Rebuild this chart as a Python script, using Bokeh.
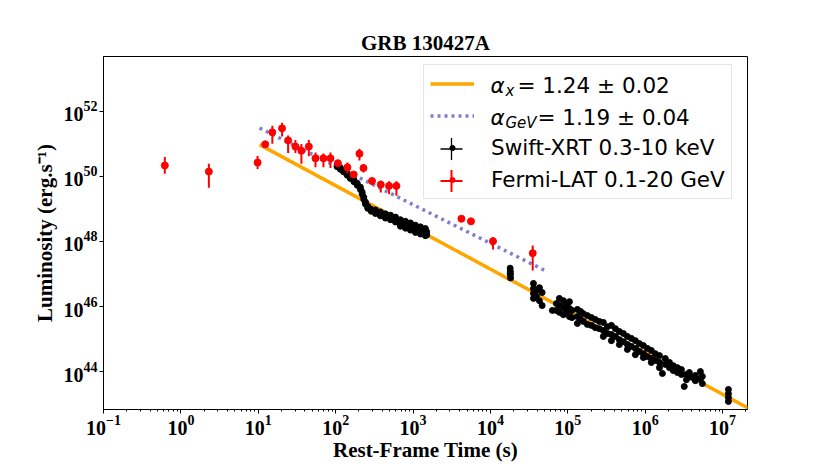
import numpy as np
from bokeh.plotting import figure
from bokeh.models import (Range1d, FixedTicker, LogTickFormatter, Legend, LegendItem,
                          Label, Arrow)
from bokeh.embed import file_html
from bokeh.resources import INLINE

# ---------------- data ----------------
# Fermi-LAT 0.1-20 GeV: rest-frame time (s), log10 luminosity, upper / lower error (dex)
lat_t = [0.62, 2.3, 9.8, 12.3, 15.2, 20.3, 24.3, 30.2, 36.1, 45, 54.9, 69.5, 85.7,
         107, 142, 171, 203, 229, 295, 383, 490, 610, 4220, 5610, 10800, 35200]
lat_logL = [50.34, 50.15, 50.43, 50.99, 51.36, 51.48, 51.11, 50.92, 50.79, 50.92, 50.56,
            50.56, 50.56, 50.41, 50.28, 50.06, 50.70, 50.26, 49.86, 49.75, 49.71, 49.71,
            48.70, 48.62, 48.01, 47.64]
lat_err_up = [0.26, 0.24, 0.20, 0.10, 0.20, 0.17, 0.15, 0.20, 0.21, 0.20, 0.18, 0.15, 0.18,
              0.08, 0.15, 0.07, 0.15, 0.12, 0.10, 0.12, 0.14, 0.14, 0.07, 0.07, 0.13, 0.24]
lat_err_dn = [0.26, 0.50, 0.20, 0.10, 0.35, 0.25, 0.39, 0.20, 0.40, 0.30, 0.28, 0.28, 0.30,
              0.08, 0.18, 0.07, 0.21, 0.14, 0.12, 0.24, 0.26, 0.30, 0.07, 0.10, 0.26, 0.53]

# Swift-XRT 0.3-10 keV: rest-frame time (s), log10 luminosity
xrt_t = [104.5, 104.5, 115, 115, 127, 127, 141, 141, 155, 155, 172, 172, 190, 190,
         209, 209, 220, 220, 231, 231, 243, 243, 260, 260, 288, 288,
         327, 327, 327, 379, 379, 379, 440, 440, 440, 511, 511, 511, 593, 593, 593,
         687, 687, 687, 687, 798, 798, 798, 798, 925, 925, 925, 925,
         1074, 1074, 1074, 1074, 1247, 1247, 1247, 1247, 1445, 1445, 1445, 1445, 1500, 1500,
         18000, 18100, 18100, 18200, 18000,
         36000, 36000, 36000, 36000, 39300, 39300, 43000, 43000, 46600, 46600,
         63200, 71300, 71300, 77900, 77900, 77900, 87700, 87700, 87700, 95900, 95900,
         105000, 105000, 105000, 113000, 113000,
         133000, 133000, 133000, 146000, 146000, 159000, 159000, 179000, 179000,
         202000, 202000, 227000, 227000, 256000, 256000,
         288000, 288000, 288000, 325000, 325000, 366000, 366000, 366000, 412000, 412000,
         464000, 464000, 464000, 523000, 523000, 589000, 589000, 589000,
         663000, 663000, 747000, 747000, 747000, 841000, 841000, 948000, 948000, 948000,
         1.07e6, 1.07e6, 1.20e6, 1.20e6, 1.20e6, 1.35e6, 1.35e6, 1.53e6, 1.53e6, 1.53e6,
         1.67e6, 1.82e6, 1.82e6,
         2.06e6, 2.06e6, 2.31e6, 2.31e6, 2.61e6, 2.61e6, 2.94e6, 2.94e6, 3.2e6,
         3.41e6, 3.41e6, 3.72e6, 3.72e6, 4.07e6, 4.45e6, 4.45e6, 5.17e6, 5.17e6,
         5.48e6, 5.48e6,
         1.19e7, 1.19e7, 1.19e7, 1.19e7]
xrt_logL = [50.34, 50.30, 50.27, 50.22, 50.18, 50.14, 50.10, 50.04, 49.98, 49.94, 49.90, 49.84,
            49.79, 49.73, 49.67, 49.60, 49.52, 49.46, 49.36, 49.30, 49.21, 49.15, 49.08, 49.02,
            48.99, 48.93,
            48.92, 48.86, 48.97, 48.85, 48.79, 48.91, 48.79, 48.72, 48.85, 48.75, 48.67, 48.81,
            48.68, 48.60, 48.75,
            48.59, 48.52, 48.67, 48.47, 48.54, 48.46, 48.62, 48.41, 48.49, 48.40, 48.57, 48.35,
            48.42, 48.34, 48.50, 48.28, 48.37, 48.29, 48.45, 48.23, 48.32, 48.24, 48.40, 48.18,
            48.30, 48.20,
            47.18, 47.08, 46.98, 46.88, 47.02,
            46.71, 46.55, 46.40, 46.25, 46.49, 46.31, 46.58, 46.18, 46.43, 46.03,
            45.88, 46.09, 45.88, 46.25, 46.03, 45.82, 46.18, 45.97, 45.75, 46.06, 45.85,
            46.15, 45.94, 45.69, 45.88, 45.66,
            45.91, 45.69, 45.48, 45.85, 45.60, 45.78, 45.54, 45.72, 45.45,
            45.66, 45.42, 45.60, 45.35, 45.54, 45.32,
            45.51, 45.26, 45.08, 45.38, 45.17, 45.42, 45.14, 44.95, 45.32, 45.08,
            45.23, 44.98, 44.83, 45.17, 44.92, 45.08, 44.83, 44.68,
            45.02, 44.77, 44.95, 44.71, 44.52, 44.86, 44.62, 44.80, 44.55, 44.43,
            44.71, 44.46, 44.65, 44.40, 44.28, 44.55, 44.34, 44.49, 44.28, 44.12,
            43.94, 44.40, 44.22,
            44.28, 44.12, 44.18, 44.03, 44.12, 43.97, 44.06, 43.91, 43.54,
            43.91, 43.75, 43.97, 43.85, 43.82, 43.88, 43.72, 44.00, 43.78,
            43.85, 43.63,
            43.45, 43.32, 43.20, 43.08]

# power-law fits (end points)
fit_x_t = [10.4, 2.5e7]
fit_x_logL = [50.98, 42.79]
fit_gev_t = [10.4, 52500]
fit_gev_logL = [51.49, 47.09]

# tick labels / positions (decades)
x_tick_exp = [-1, 0, 1, 2, 3, 4, 5, 6, 7]
y_tick_exp = [44, 46, 48, 50, 52]

# ---------------- figure ----------------
p = figure(width=830, height=467, x_axis_type="log", y_axis_type="log",
           x_range=Range1d(0.1, 2.1e7), y_range=Range1d(6.8e42, 4.9e53),
           output_backend="svg", toolbar_location=None,
           min_border_left=103, min_border_right=83, min_border_top=56, min_border_bottom=58,
           background_fill_color="white", border_fill_color="white")

p.xgrid.visible = False
p.ygrid.visible = False
p.outline_line_color = "black"
p.outline_line_width = 1

p.title.text = "GRB 130427A"
p.title.align = "center"
p.title.text_font = "Liberation Serif"
p.title.text_font_style = "bold"
p.title.text_font_size = "21px"
p.title.text_color = "black"
p.title.standoff = 3

x_minor = [k * 10.0 ** e for e in range(-1, 8) for k in range(2, 10)]
p.xaxis.ticker = FixedTicker(ticks=[10.0 ** e for e in x_tick_exp], minor_ticks=x_minor)
p.yaxis.ticker = FixedTicker(ticks=[10.0 ** e for e in y_tick_exp], minor_ticks=[])
p.xaxis.formatter = LogTickFormatter()
p.yaxis.formatter = LogTickFormatter()
p.xaxis.axis_label = "Rest-Frame Time (s)"
p.yaxis.axis_label = "Luminosity (erg.s\u207b\u00b9)"

for ax in (p.xaxis[0], p.yaxis[0]):
    ax.major_label_text_font = "Liberation Serif"
    ax.major_label_text_font_style = "bold"
    ax.major_label_text_font_size = "20px"
    ax.major_label_text_color = "black"
    ax.axis_label_text_font = "Liberation Serif"
    ax.axis_label_text_font_style = "bold"
    ax.axis_label_text_font_size = "21px"
    ax.axis_label_text_color = "black"
    ax.axis_line_color = "black"
    ax.major_tick_line_color = "black"
    ax.minor_tick_line_color = "black"
    ax.major_tick_in = 0
    ax.major_tick_out = 4
    ax.minor_tick_in = 0
    ax.minor_tick_out = 2
p.yaxis.major_label_standoff = 2
p.xaxis.major_label_standoff = 1
p.yaxis.axis_label_standoff = 4
p.xaxis.axis_label_standoff = 0

# ---------------- glyphs ----------------
r_fit_x = p.line(fit_x_t, [10.0 ** v for v in fit_x_logL],
                 line_color="#ffa500", line_width=3.5)
r_fit_gev = p.line(fit_gev_t, [10.0 ** v for v in fit_gev_logL],
                   line_color="#7f7fcc", line_width=3.5, line_dash="3 4")

r_xrt = p.scatter(xrt_t, [10.0 ** v for v in xrt_logL], marker="circle",
                  size=6, fill_color="black", line_color="black")

lat_L = [10.0 ** v for v in lat_logL]
lat_lo = [10.0 ** (v - d) for v, d in zip(lat_logL, lat_err_dn)]
lat_hi = [10.0 ** (v + u) for v, u in zip(lat_logL, lat_err_up)]
p.segment(x0=lat_t, y0=lat_lo, x1=lat_t, y1=lat_hi, line_color="red", line_width=2)
r_lat = p.scatter(lat_t, lat_L, marker="circle", size=7, fill_color="red", line_color="red")

# ---------------- legend ----------------
legend = Legend(items=[
    LegendItem(label=" ", renderers=[r_fit_x]),
    LegendItem(label=" ", renderers=[r_fit_gev]),
    LegendItem(label="Swift-XRT 0.3-10 keV", renderers=[r_xrt]),
    LegendItem(label="Fermi-LAT 0.1-20 GeV", renderers=[r_lat]),
], location=(320, 210))
legend.label_text_font = "DejaVu Sans"
legend.label_text_font_size = "21.5px"
legend.label_text_color = "black"
legend.glyph_width = 44
legend.glyph_height = 13
legend.label_height = 25
legend.label_standoff = 17
legend.padding = 6
legend.spacing = 7
legend.margin = 0
legend.border_line_color = "#cccccc"
legend.border_line_width = 1
legend.background_fill_color = "white"
legend.background_fill_alpha = 0.0
p.add_layout(legend)

row_y = [324.5, 292.5, 260.5, 228.5]   # legend row centres (screen px above frame bottom)
glyph_cx = 348
for sub, yrow, x_eq, eq in (("x", row_y[0], 414, "= 1.24 \u00b1 0.02"),
                            ("GeV", row_y[1], 434, "= 1.19 \u00b1 0.04")):
    p.add_layout(Label(x=387, y=yrow, x_units="screen", y_units="screen", text="\u03b1",
                       text_font="DejaVu Sans", text_font_style="italic",
                       text_font_size="21.5px", text_baseline="middle", text_color="black"))
    p.add_layout(Label(x=402, y=yrow - 6, x_units="screen", y_units="screen", text=sub,
                       text_font="DejaVu Sans", text_font_style="italic",
                       text_font_size="15px", text_baseline="middle", text_color="black"))
    p.add_layout(Label(x=x_eq, y=yrow, x_units="screen", y_units="screen", text=eq,
                       text_font="DejaVu Sans", text_font_size="21.5px",
                       text_baseline="middle", text_color="black"))

for yrow, col, lw in ((row_y[2], "black", 1.3), (row_y[3], "red", 2)):
    p.add_layout(Arrow(x_start=glyph_cx - 11, y_start=yrow, x_end=glyph_cx + 11, y_end=yrow,
                       start_units="screen", end_units="screen", end=None,
                       line_color=col, line_width=lw))
    p.add_layout(Arrow(x_start=glyph_cx, y_start=yrow - 11, x_end=glyph_cx, y_end=yrow + 11,
                       start_units="screen", end_units="screen", end=None,
                       line_color=col, line_width=lw))

open("out.html", "w").write(file_html(p, INLINE))
